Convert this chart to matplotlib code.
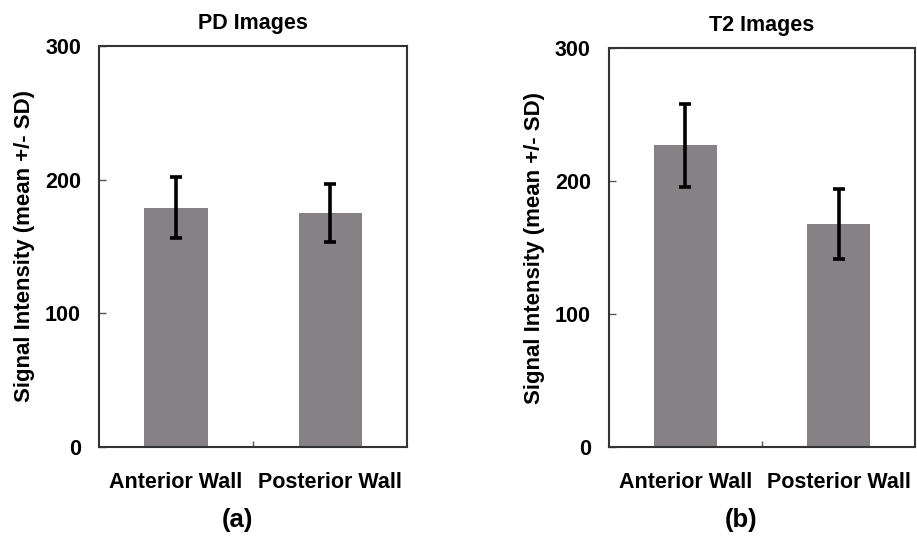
import matplotlib
matplotlib.use('Agg')
import matplotlib.pyplot as plt
import numpy as np

plt.rcParams['font.family'] = ['Liberation Sans', 'DejaVu Sans']
plt.rcParams['font.weight'] = 'bold'

categories = ['Anterior Wall', 'Posterior Wall']
pd_mean = [179, 175]
pd_sd = [23, 21.5]
t2_mean = [227, 168]
t2_sd = [31, 26.5]
titles = ['PD Images', 'T2 Images']
panel_tags = ['(a)', '(b)']
yticks = [0, 100, 200, 300]

fig = plt.figure(figsize=(9.17, 5.57), dpi=100)
axes = [fig.add_axes([0.108, 0.1975, 0.336, 0.72]),
        fig.add_axes([0.664, 0.1966, 0.334, 0.717])]

x = np.arange(len(categories))
for ax, means, sds, title in zip(axes, [pd_mean, t2_mean], [pd_sd, t2_sd], titles):
    ax.bar(x, means, width=0.41, color='#858185', zorder=2)
    ax.errorbar(x, means, yerr=sds, fmt='none', ecolor='black',
                elinewidth=2.6, capsize=4.5, capthick=2.6, zorder=3)
    ax.set_xlim(-0.5, 1.5)
    ax.set_ylim(0, 300)
    ax.set_yticks(yticks)
    ax.set_xticks(x)
    ax.set_xticklabels(categories, fontsize=15.5, fontweight='bold')
    ax.set_xticks([0.5], minor=True)
    ax.tick_params(axis='x', which='major', length=0, pad=18)
    ax.tick_params(axis='x', which='minor', direction='in', length=4, width=1, color='#555555')
    ax.tick_params(axis='y', direction='in', length=5, width=1, color='#555555',
                   labelsize=15.5, pad=13)
    for lbl in ax.get_yticklabels():
        lbl.set_fontweight('bold')
    for sp in ax.spines.values():
        sp.set_linewidth(1.5)
        sp.set_color('#333333')
    ax.set_title(title, fontsize=15.5, fontweight='bold', pad=12)
    ax.set_ylabel('Signal Intensity (mean +/- SD)', fontsize=16, fontweight='bold', labelpad=7)

fig.text(0.259, 0.066, panel_tags[0], ha='center', va='center', fontsize=18.5, fontweight='bold')
fig.text(0.808, 0.066, panel_tags[1], ha='center', va='center', fontsize=18.5, fontweight='bold')

fig.savefig('out.png', dpi=100)
